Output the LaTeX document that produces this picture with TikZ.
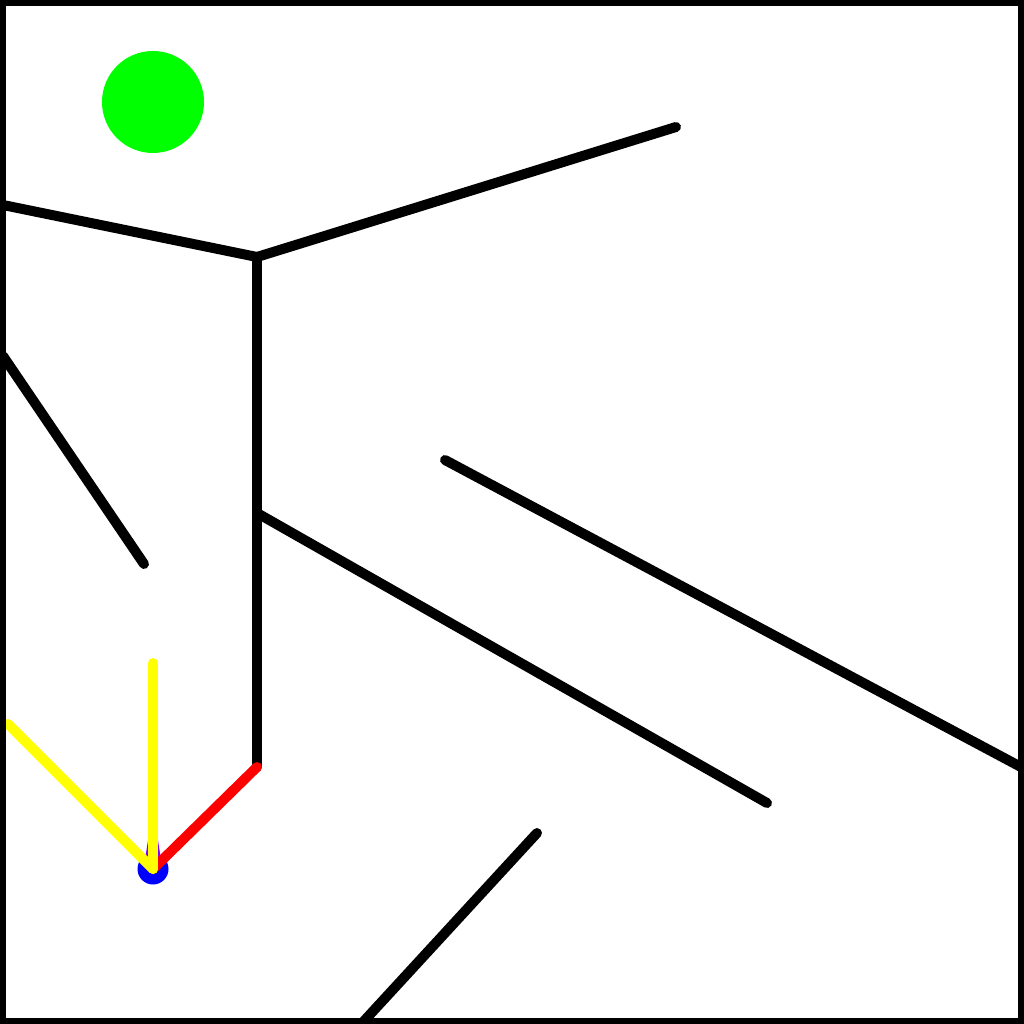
\documentclass[tikz,border=0pt]{standalone}
\usepackage{tikz}
\usetikzlibrary{calc}
\definecolor{goalGreen}{RGB}{0,255,0}
\definecolor{botBlue}{RGB}{0,0,255}
\definecolor{headViolet}{RGB}{128,0,255}
\definecolor{rayYellow}{RGB}{255,255,0}
\definecolor{pathRed}{RGB}{255,0,0}

\begin{document}
\begin{tikzpicture}[
    x=1pt,y=-1pt,
    wall/.style={line width=10pt,line cap=round,draw=black},
    ray/.style={line width=10pt,line cap=round,draw=rayYellow},
    trail/.style={line width=10pt,line cap=round,draw=pathRed}
  ]
    \useasboundingbox (0,0) rectangle (1024,1024);
    \fill[white] (0,0) rectangle (1024,1024);

    % key points
    \coordinate (corner) at (257,257);
    \coordinate (foot) at (257,767);
    \coordinate (branch) at (257,513);
    \coordinate (bot) at (153,869);

    % goal
    \fill[goalGreen] (153,102) circle[radius=51];

    % walls
    \draw[wall] (3,205) -- (corner);
    \draw[wall] (corner) -- (676,127);
    \draw[wall] (corner) -- (foot);
    \draw[wall] (3,356) -- (144,564);
    \draw[wall] (branch) -- (767,803);
    \draw[wall] (445,460) -- (1021,767);
    \draw[wall] (537,833) -- (364,1021);

    % robot
    \fill[botBlue] (bot) circle[radius=15.5];
    \fill[headViolet] (149,834) -- (157,834) -- (162,866) -- (144,866) -- cycle;
    \draw[trail] (foot) -- (bot);
    \draw[ray] (bot) -- (153,663);
    \draw[ray] (bot) -- (8,724);

    % frame
    \draw[line width=6pt] (3,3) rectangle (1021,1021);
  \end{tikzpicture}
\end{document}
